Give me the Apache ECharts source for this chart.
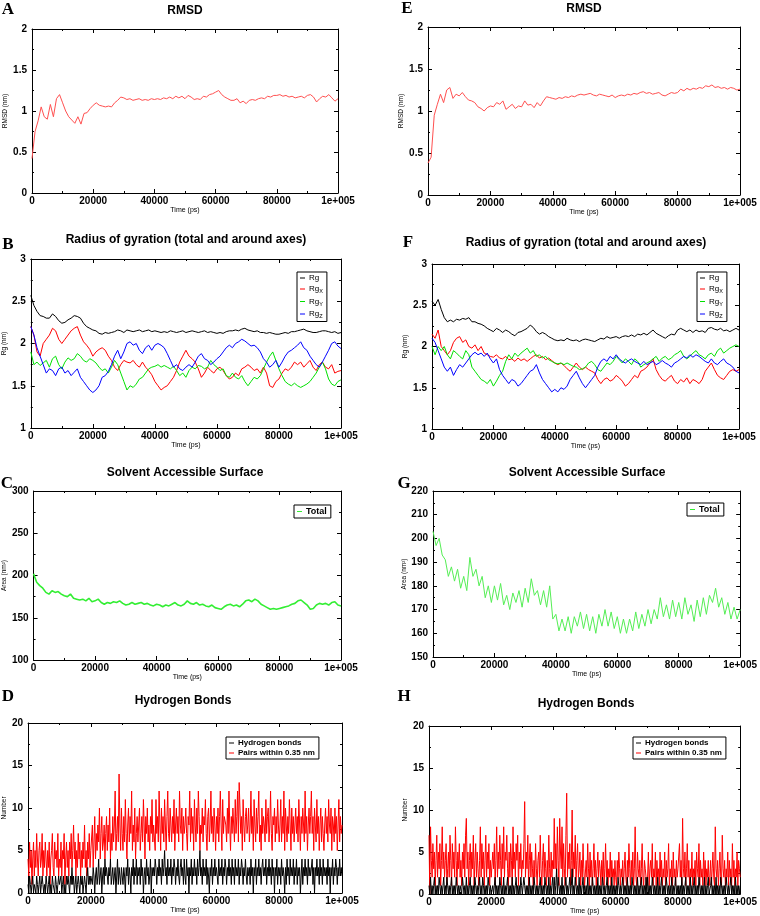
<!DOCTYPE html>
<html>
<head>
<meta charset="utf-8">
<script src="https://cdn.jsdelivr.net/npm/echarts/dist/echarts.min.js"></script>
<style>html,body{margin:0;background:#fff}#main{width:760px;height:916px}</style>
</head>
<body>
<div id="main"></div>
<script>
(function(){
	'use strict';

	// time grids (ps)
	var t1 = [], th = [];
	for (var i = 0; i <= 100; i++) t1.push(i * 1000);
	for (var j = 0; j <= 400; j++) th.push(j * 250);

	// A / E : RMSD
	var rmsdA = [0.42,0.75,0.88,1.05,0.93,0.9,1.08,0.93,1.15,1.2,
		1.1,1.0,0.93,0.89,0.85,0.93,0.84,0.97,0.98,1.03,
		1.07,1.1,1.07,1.06,1.05,1.06,1.05,1.1,1.13,1.17,
		1.16,1.14,1.15,1.13,1.14,1.15,1.13,1.14,1.13,1.15,
		1.14,1.15,1.14,1.16,1.15,1.17,1.15,1.18,1.16,1.18,
		1.15,1.19,1.17,1.14,1.15,1.14,1.18,1.17,1.2,1.21,
		1.23,1.25,1.2,1.17,1.15,1.13,1.13,1.15,1.1,1.12,
		1.09,1.13,1.14,1.13,1.15,1.16,1.15,1.18,1.17,1.19,
		1.19,1.2,1.18,1.19,1.17,1.18,1.16,1.17,1.18,1.16,
		1.19,1.2,1.17,1.11,1.15,1.18,1.17,1.2,1.16,1.12,
		1.15];
	var rmsdE = [0.38,0.45,0.95,1.08,1.2,1.1,1.25,1.28,1.15,1.2,
		1.18,1.22,1.17,1.13,1.12,1.1,1.05,1.03,1.0,1.04,
		1.06,1.05,1.1,1.08,1.12,1.02,1.05,1.08,1.03,1.06,
		1.05,1.12,1.07,1.08,1.04,1.1,1.06,1.12,1.17,1.16,
		1.15,1.14,1.16,1.15,1.17,1.16,1.18,1.17,1.19,1.2,
		1.19,1.2,1.21,1.19,1.18,1.2,1.19,1.18,1.17,1.19,
		1.16,1.18,1.19,1.18,1.2,1.19,1.21,1.2,1.22,1.23,
		1.21,1.22,1.2,1.21,1.22,1.19,1.18,1.2,1.22,1.21,
		1.22,1.26,1.24,1.27,1.25,1.27,1.26,1.28,1.27,1.3,
		1.29,1.31,1.28,1.29,1.27,1.28,1.26,1.28,1.27,1.25,
		1.26];

	// B : radius of gyration
	var rgB = [2.57,2.45,2.38,2.33,2.32,2.3,2.3,2.35,2.32,2.27,
		2.24,2.25,2.28,2.3,2.33,2.32,2.3,2.24,2.2,2.18,
		2.16,2.15,2.12,2.11,2.13,2.12,2.13,2.14,2.16,2.15,
		2.13,2.16,2.15,2.14,2.15,2.16,2.14,2.15,2.16,2.14,
		2.15,2.14,2.13,2.14,2.13,2.15,2.14,2.13,2.14,2.15,
		2.13,2.14,2.15,2.14,2.13,2.14,2.15,2.13,2.14,2.13,
		2.12,2.13,2.12,2.14,2.15,2.15,2.16,2.15,2.17,2.18,
		2.16,2.15,2.14,2.15,2.13,2.13,2.12,2.13,2.12,2.11,
		2.11,2.12,2.13,2.12,2.14,2.14,2.15,2.16,2.17,2.15,
		2.14,2.13,2.13,2.14,2.15,2.15,2.14,2.13,2.14,2.12,
		2.13];
	var rgxB = [2.2,2.1,1.9,1.85,2.0,2.05,2.1,2.18,2.15,2.05,
		2.0,2.05,2.1,2.15,2.18,2.2,2.1,2.02,1.98,1.93,
		1.85,1.9,1.93,1.95,1.92,1.85,1.8,1.72,1.68,1.75,
		1.8,1.78,1.77,1.8,1.75,1.72,1.78,1.72,1.68,1.63,
		1.55,1.5,1.45,1.48,1.5,1.55,1.6,1.68,1.78,1.85,
		1.92,1.85,1.82,1.78,1.7,1.6,1.65,1.72,1.68,1.65,
		1.7,1.72,1.68,1.62,1.58,1.6,1.65,1.62,1.7,1.72,
		1.75,1.72,1.68,1.7,1.65,1.72,1.65,1.5,1.48,1.55,
		1.58,1.65,1.7,1.68,1.72,1.78,1.75,1.78,1.72,1.76,
		1.8,1.72,1.68,1.75,1.78,1.72,1.7,1.75,1.65,1.67,
		1.68];
	var rgyB = [1.9,1.75,1.78,1.74,1.77,1.8,1.72,1.82,1.85,1.75,
		1.7,1.78,1.83,1.8,1.82,1.88,1.85,1.8,1.78,1.82,
		1.8,1.77,1.72,1.68,1.7,1.65,1.72,1.8,1.75,1.65,
		1.55,1.45,1.5,1.48,1.52,1.58,1.6,1.65,1.7,1.72,
		1.73,1.75,1.72,1.74,1.72,1.7,1.73,1.68,1.62,1.65,
		1.6,1.68,1.72,1.7,1.74,1.73,1.7,1.72,1.8,1.75,
		1.72,1.68,1.7,1.62,1.6,1.65,1.6,1.58,1.62,1.55,
		1.5,1.55,1.6,1.58,1.62,1.7,1.78,1.85,1.9,1.8,
		1.7,1.62,1.55,1.52,1.5,1.53,1.5,1.48,1.5,1.52,
		1.55,1.6,1.65,1.72,1.78,1.7,1.58,1.52,1.5,1.55,
		1.57];
	var rgzB = [2.2,2.1,1.95,1.85,1.75,1.65,1.7,1.68,1.62,1.7,
		1.72,1.65,1.68,1.62,1.66,1.7,1.6,1.55,1.5,1.45,
		1.42,1.45,1.5,1.6,1.62,1.67,1.75,1.85,1.92,1.82,
		1.9,2.0,2.02,1.98,2.0,1.92,1.88,1.95,1.98,1.92,
		1.98,2.0,1.98,1.95,1.88,1.8,1.72,1.75,1.7,1.68,
		1.72,1.75,1.72,1.78,1.85,1.88,1.82,1.8,1.75,1.78,
		1.82,1.85,1.9,1.95,1.98,1.95,2.0,2.02,2.05,2.03,
		2.0,1.97,1.98,1.95,1.9,1.82,1.78,1.72,1.75,1.8,
		1.72,1.78,1.85,1.9,1.92,1.95,1.98,2.02,1.95,1.92,
		1.85,1.8,1.75,1.72,1.78,1.85,1.92,2.0,2.02,1.97,
		1.94];

	// F : radius of gyration
	var rgF = [2.55,2.5,2.57,2.45,2.35,2.3,2.32,2.3,2.33,2.32,
		2.34,2.33,2.35,2.3,2.3,2.28,2.27,2.25,2.22,2.2,
		2.18,2.22,2.2,2.17,2.2,2.18,2.15,2.13,2.17,2.18,
		2.2,2.22,2.26,2.23,2.18,2.15,2.17,2.15,2.12,2.1,
		2.08,2.07,2.08,2.07,2.1,2.08,2.07,2.08,2.06,2.08,
		2.09,2.08,2.07,2.06,2.08,2.1,2.09,2.12,2.1,2.11,
		2.12,2.1,2.12,2.13,2.12,2.14,2.12,2.15,2.14,2.16,
		2.14,2.17,2.2,2.16,2.14,2.12,2.1,2.13,2.15,2.14,
		2.2,2.22,2.2,2.18,2.2,2.17,2.2,2.18,2.19,2.17,
		2.22,2.23,2.21,2.2,2.22,2.19,2.2,2.18,2.2,2.22,
		2.2];
	var rgxF = [2.15,2.1,2.2,2.0,1.95,1.9,1.95,2.05,2.1,2.12,
		2.05,2.08,2.0,1.98,2.02,1.95,2.0,1.92,1.9,1.88,
		1.87,1.9,1.86,1.85,1.88,1.84,1.85,1.82,1.86,1.83,
		1.85,1.82,1.85,1.88,1.9,1.86,1.88,1.84,1.86,1.83,
		1.8,1.78,1.8,1.77,1.73,1.7,1.75,1.8,1.75,1.72,
		1.75,1.72,1.7,1.68,1.6,1.55,1.6,1.62,1.58,1.6,
		1.65,1.62,1.58,1.52,1.55,1.6,1.65,1.62,1.7,1.72,
		1.75,1.8,1.85,1.72,1.65,1.6,1.58,1.62,1.65,1.58,
		1.55,1.6,1.57,1.62,1.55,1.6,1.58,1.55,1.6,1.7,
		1.75,1.8,1.72,1.65,1.62,1.6,1.65,1.7,1.72,1.7,
		1.72];
	var rgyF = [2.0,1.9,2.0,1.95,2.0,1.9,1.85,1.95,1.92,1.88,
		1.85,1.95,1.9,1.75,1.7,1.65,1.6,1.58,1.55,1.6,
		1.52,1.58,1.65,1.7,1.82,1.9,1.85,1.92,1.88,1.92,
		1.95,1.98,1.92,1.95,1.88,1.9,1.86,1.88,1.84,1.82,
		1.8,1.79,1.8,1.78,1.8,1.78,1.76,1.75,1.72,1.73,
		1.75,1.8,1.82,1.78,1.72,1.7,1.75,1.8,1.78,1.82,
		1.88,1.84,1.8,1.85,1.82,1.78,1.85,1.82,1.75,1.78,
		1.8,1.82,1.85,1.88,1.82,1.86,1.88,1.84,1.86,1.9,
		1.92,1.95,1.88,1.85,1.88,1.92,1.95,1.9,1.88,1.85,
		1.9,1.92,1.88,1.95,1.98,1.92,1.95,1.98,2.0,2.02,
		2.0];
	var rgzF = [2.1,2.05,1.95,1.85,1.75,1.7,1.75,1.65,1.72,1.78,
		1.75,1.8,1.85,1.9,1.93,1.9,1.92,1.88,1.92,1.85,
		1.8,1.85,1.72,1.65,1.6,1.55,1.6,1.58,1.52,1.55,
		1.6,1.65,1.7,1.72,1.78,1.68,1.6,1.55,1.5,1.45,
		1.48,1.45,1.5,1.48,1.52,1.6,1.65,1.7,1.62,1.55,
		1.5,1.55,1.6,1.65,1.75,1.82,1.85,1.82,1.88,1.85,
		1.9,1.85,1.82,1.8,1.83,1.85,1.82,1.8,1.78,1.82,
		1.78,1.8,1.82,1.78,1.8,1.83,1.8,1.78,1.75,1.8,
		1.82,1.85,1.88,1.86,1.9,1.87,1.9,1.88,1.85,1.82,
		1.8,1.85,1.8,1.78,1.82,1.85,1.8,1.78,1.75,1.7,
		1.68];

	// C / G : solvent accessible surface (nm^2)
	var sasaC = [202,192,188,185,180,178,182,180,181,178,
		176,175,178,173,172,171,172,170,173,169,
		170,172,168,166,168,167,169,168,170,167,
		165,166,168,166,167,168,166,167,165,164,
		166,165,163,165,164,166,168,165,164,166,
		170,167,166,168,165,166,164,163,165,162,
		161,160,163,165,166,164,165,163,166,170,
		171,169,172,170,166,164,162,160,161,160,
		161,162,163,164,166,167,170,171,168,165,
		160,161,165,167,166,167,165,168,169,165,
		164];
	var sasaG = [203,197,200,193,191,184,188,182,187,179,
		184,178,192,184,187,180,184,175,180,173,
		180,174,181,172,176,170,177,173,178,171,
		179,173,183,176,178,172,178,171,180,166,
		168,161,166,161,167,160,167,163,169,162,
		168,161,167,160,168,163,170,163,169,162,
		167,160,166,160,166,161,169,162,168,163,
		170,164,170,166,175,167,172,166,174,167,
		173,166,175,168,172,165,174,167,175,168,
		176,173,179,171,175,168,173,166,171,166,
		170];

	// D / H : hydrogen bonds (every 250 ps)
	var pairsD = [4,2,6,3,5,1,4,6,2,5,3,7,4,2,5,6,3,4,7,2,5,3,6,4,2,5,3,6,1,4,5,7,3,2,6,4,5,3,7,2,4,
		3,6,2,5,4,7,1,4,6,3,5,2,6,4,7,3,5,8,4,6,2,5,3,7,4,6,2,5,3,6,4,8,3,5,2,6,4,7,3,5,
		5,8,3,6,9,4,7,5,8,6,10,4,7,9,5,6,8,4,7,9,5,8,6,10,4,7,5,9,6,8,12,5,7,9,6,14,8,5,10,7,
		5,9,6,11,7,4,8,10,6,9,7,12,5,8,6,10,4,7,9,6,8,10,5,7,9,6,11,8,4,9,7,10,6,8,5,9,7,11,6,8,
		8,5,11,7,9,6,12,8,5,10,7,9,6,11,8,5,9,12,7,6,10,8,6,9,7,11,5,8,10,7,9,6,12,8,7,10,5,9,7,8,
		10,7,5,9,8,12,6,10,7,9,5,11,8,6,10,7,12,9,5,8,7,10,6,9,8,11,7,5,9,10,6,8,12,7,9,6,10,8,5,9,
		7,10,6,9,12,8,5,11,7,9,9,8,6,10,7,12,8,5,9,7,10,8,6,11,7,9,12,6,13,10,7,9,5,11,8,6,9,10,7,8,
		10,6,8,12,7,9,5,11,8,6,10,7,9,12,6,8,5,10,7,9,8,6,11,7,9,10,6,8,12,7,5,9,8,10,6,9,7,11,8,6,
		8,11,6,9,7,12,5,10,8,6,9,7,11,8,5,10,7,9,6,8,10,7,9,6,11,8,5,9,7,10,8,6,12,7,9,5,8,10,7,9,
		12,7,9,5,10,8,6,11,7,9,5,8,10,6,9,7,5,8,10,7,9,6,11,8,7,10,5,9,8,6,10,7,9,5,8,11,6,9,7,8];
	var hbondD = [1,0,2,1,0,1,2,0,1,1,0,2,1,0,1,2,0,1,2,1,0,1,0,2,1,0,1,2,0,1,0,2,1,1,0,2,1,0,1,2,1,
		1,2,0,1,2,0,1,0,2,1,2,1,0,2,1,3,1,2,0,1,2,0,1,2,1,0,2,1,2,0,1,2,1,0,2,3,1,2,1,2,
		2,1,3,2,0,2,3,1,2,4,1,2,3,0,2,3,1,4,2,3,2,1,3,2,4,1,2,3,1,2,3,0,2,4,1,3,2,1,3,2,
		1,3,2,0,3,2,4,1,3,2,0,3,2,4,1,3,2,4,1,3,2,3,1,4,2,3,0,2,3,1,4,2,3,1,2,4,0,3,2,3,
		2,4,3,1,3,2,4,2,3,1,4,2,3,5,2,3,1,4,2,3,2,4,1,3,2,4,3,1,3,2,4,2,1,3,4,2,3,1,4,2,
		1,4,2,3,0,3,2,4,1,3,2,4,2,3,1,4,2,3,5,2,3,1,4,2,3,2,4,1,3,2,0,3,2,4,1,3,2,4,2,3,
		3,1,4,2,3,2,4,1,3,2,4,3,1,3,2,4,2,3,1,4,2,3,1,4,2,3,2,4,1,3,2,4,3,1,3,2,4,2,1,3,
		2,3,1,4,2,3,0,3,2,4,1,3,2,4,2,3,1,3,4,2,3,2,4,1,3,2,4,2,3,1,4,2,3,0,3,2,4,1,3,2,
		3,1,4,2,3,2,0,3,1,4,2,3,1,4,2,3,2,4,1,3,2,4,1,3,2,3,0,2,4,1,3,2,4,2,3,1,4,2,3,2,
		2,4,1,3,0,3,2,4,2,3,1,4,2,3,1,4,2,3,2,3,1,4,2,3,0,3,2,4,1,3,2,4,3,1,3,2,4,2,3,2];
	var pairsH = [7,0,8,4,2,6,3,5,1,4,7,2,5,3,6,1,4,8,3,5,2,4,6,1,3,5,2,7,4,1,6,3,5,2,8,4,1,5,3,6,2,
		4,1,5,3,6,2,7,9,3,5,1,4,6,2,5,3,7,1,4,6,2,5,3,1,4,8,2,6,3,5,1,4,7,2,5,3,6,1,4,2,
		2,5,3,6,1,4,8,2,5,3,7,4,1,6,3,8,2,5,4,7,3,1,5,2,6,4,1,8,3,5,2,6,4,7,1,5,3,6,2,4,
		3,6,11,2,5,3,7,1,4,6,2,5,3,1,4,2,6,3,1,4,5,2,7,3,1,4,6,2,5,3,1,4,2,7,3,1,5,2,4,3,
		9,3,6,2,8,4,1,9,5,3,8,2,6,3,1,7,12,2,5,3,6,1,4,10,2,5,3,7,1,4,6,2,3,5,1,4,2,6,3,1,
		1,4,2,6,3,1,5,2,4,1,3,6,2,4,1,3,5,2,4,3,1,4,2,5,1,3,6,2,4,1,3,2,5,1,4,2,3,1,4,2,
		1,4,2,5,3,1,3,2,4,1,3,5,2,1,4,2,6,3,1,4,2,5,1,3,8,2,1,5,3,2,4,1,3,6,2,1,4,3,2,1,
		2,5,1,3,4,2,6,1,3,2,5,1,4,2,3,1,5,2,4,1,3,2,5,1,4,2,3,6,1,3,2,4,1,5,2,3,1,4,2,3,
		3,6,2,4,1,9,3,2,5,1,3,6,2,4,1,3,2,5,1,3,2,4,1,5,3,2,6,1,4,2,3,1,5,2,4,1,3,2,4,1,
		2,4,1,3,5,2,1,8,3,2,4,1,3,5,2,1,7,3,2,4,1,3,2,5,1,4,2,3,1,6,2,4,1,3,2,5,1,4,3,2];
	var hbondH = [1,0,2,0,1,0,1,2,0,1,0,1,0,2,1,0,1,0,1,2,0,1,0,2,1,0,1,0,1,2,0,1,0,1,0,2,1,0,1,0,1,
		1,0,2,1,0,1,0,2,0,1,0,1,2,0,1,0,1,0,2,1,0,1,0,1,2,0,1,0,2,1,0,1,0,1,0,2,1,0,1,0,
		0,1,0,1,2,0,1,0,1,0,2,1,0,1,0,2,0,1,0,1,2,0,1,0,1,0,2,0,1,0,1,2,0,1,0,1,0,2,1,0,
		0,2,1,0,1,0,1,0,2,0,1,0,1,0,2,1,0,1,0,1,0,1,2,0,1,0,1,0,2,1,0,1,0,2,0,1,0,1,2,0,
		2,0,1,3,0,2,1,0,1,0,2,0,1,0,1,2,0,1,0,1,2,0,1,3,0,1,0,2,1,0,1,0,2,0,1,0,1,2,0,1,
		0,1,0,2,0,1,0,1,0,2,1,0,1,0,1,0,2,0,1,0,1,0,2,1,0,1,0,1,2,0,1,0,1,0,2,0,1,0,1,0,
		1,0,2,1,0,1,0,1,2,0,1,0,1,0,2,0,1,0,1,0,2,1,0,1,0,1,0,2,0,1,0,1,2,0,1,0,1,0,2,0,
		2,0,1,0,1,0,2,1,0,1,0,1,0,2,0,1,0,1,2,0,1,0,1,0,2,1,0,1,0,1,0,2,0,1,0,1,2,0,1,0,
		1,0,1,0,2,0,1,0,1,2,0,1,0,1,0,2,0,1,0,1,2,0,1,0,1,0,2,1,0,1,0,1,0,2,0,1,0,1,2,0,
		0,1,2,0,1,0,1,0,2,0,1,0,1,0,2,1,0,1,0,1,0,2,1,0,1,0,1,2,0,1,0,1,0,2,0,1,0,1,0,1];

	var FONT = 'Liberation Sans, Arial, sans-serif';

	// layout of the 8 panels: [left, top, width, height]
	var panels = [
		{ box: [32, 29, 306, 164],  y: [0, 2, 0.5],     yname: 'RMSD (nm)',  ygap: 19, title: 'RMSD', tx: 185, ty: 11, letter: 'A', lx: 8, ly: 10 },
		{ box: [428, 27, 312, 168], y: [0, 2, 0.5],     yname: 'RMSD (nm)',  ygap: 20, title: 'RMSD', tx: 584, ty: 9, letter: 'E', lx: 407, ly: 9 },
		{ box: [30, 259, 311, 169], y: [1, 3, 0.5],     yname: 'Rg (nm)',    ygap: 19, title: 'Radius of gyration (total and around axes)', tx: 186, ty: 240, letter: 'B', lx: 8, ly: 245 },
		{ box: [432, 264, 307, 165], y: [1, 3, 0.5],    yname: 'Rg (nm)',    ygap: 19, title: 'Radius of gyration (total and around axes)', tx: 586, ty: 243, letter: 'F', lx: 408, ly: 243 },
		{ box: [30, 491, 311, 169], y: [100, 300, 50],  yname: 'Area (nm²)', ygap: 21, title: 'Solvent Accessible Surface', tx: 185, ty: 473, letter: 'C', lx: 7, ly: 484 },
		{ box: [433, 491, 308, 166], y: [150, 220, 10], yname: 'Area (nm²)', ygap: 20, title: 'Solvent Accessible Surface', tx: 587, ty: 473, letter: 'G', lx: 404, ly: 484 },
		{ box: [26, 723, 316, 170], y: [0, 20, 5],      yname: 'Number',     ygap: 16, title: 'Hydrogen Bonds', tx: 183, ty: 701, letter: 'D', lx: 8, ly: 697 },
		{ box: [429, 726, 315, 171], y: [0, 20, 5],     yname: 'Number',     ygap: 16, title: 'Hydrogen Bonds', tx: 586, ty: 704, letter: 'H', lx: 404, ly: 697 }
	];

	function pts(t, v) {
		return v.map(function (y, k) { return [t[k], y]; });
	}

	var grid = [], xAxis = [], yAxis = [], graphic = [];
	var tick = { show: true, inside: true, length: 4, lineStyle: { color: '#000' } };
	var minor = { show: true, splitNumber: 2, length: 2, lineStyle: { color: '#000' } };
	var line = { show: true, onZero: false, lineStyle: { color: '#000', width: 1 } };
	var lab = { color: '#000', fontFamily: FONT, fontWeight: 'bold', fontSize: 10 };

	panels.forEach(function (p, i) {
		grid.push({ left: p.box[0], top: p.box[1], width: p.box[2], height: p.box[3] });
		xAxis.push({
			gridIndex: i, type: 'value', position: 'bottom', min: 0, max: 100000, interval: 20000,
			axisLine: line, axisTick: tick, minorTick: minor, splitLine: { show: false },
			axisLabel: Object.assign({ margin: 3, formatter: function (v) { return v === 100000 ? '1e+005' : String(v); } }, lab),
			name: 'Time (ps)', nameLocation: 'middle', nameGap: 14,
			nameTextStyle: { color: '#000', fontFamily: FONT, fontSize: 7 }
		});
		xAxis.push({
			gridIndex: i, type: 'value', position: 'top', min: 0, max: 100000, interval: 20000,
			axisLine: line, axisTick: tick, minorTick: minor, splitLine: { show: false }, axisLabel: { show: false }
		});
		yAxis.push({
			gridIndex: i, type: 'value', position: 'left', min: p.y[0], max: p.y[1], interval: p.y[2],
			axisLine: line, axisTick: tick, minorTick: minor, splitLine: { show: false },
			axisLabel: Object.assign({ margin: 5 }, lab),
			name: p.yname, nameLocation: 'middle', nameGap: p.ygap,
			nameTextStyle: { color: '#000', fontFamily: FONT, fontSize: 6.5 }
		});
		yAxis.push({
			gridIndex: i, type: 'value', position: 'right', min: p.y[0], max: p.y[1], interval: p.y[2],
			axisLine: line, axisTick: tick, minorTick: minor, splitLine: { show: false }, axisLabel: { show: false }
		});
		graphic.push({ type: 'text', x: p.tx, y: p.ty, style: { text: p.title, fill: '#000', font: 'bold 12px ' + FONT, align: 'center', verticalAlign: 'middle' } });
		graphic.push({ type: 'text', x: p.lx, y: p.ly, style: { text: p.letter, fill: '#000', font: 'bold 17px Liberation Serif, Times New Roman, serif', align: 'center', verticalAlign: 'middle' } });
	});

	function ser(name, panel, t, v, color, width) {
		return {
			name: name, type: 'line', xAxisIndex: panel * 2, yAxisIndex: panel * 2,
			data: pts(t, v), symbol: 'none', showSymbol: false, sampling: null,
			lineStyle: { color: color, width: width || 1 }, itemStyle: { color: color },
			silent: true, animation: false
		};
	}

	var series = [
		ser('RMSD A', 0, t1, rmsdA, '#ff5050'),
		ser('RMSD E', 1, t1, rmsdE, '#ff5050'),
		ser('Rg', 2, t1, rgB, '#000000'),
		ser('RgX', 2, t1, rgxB, '#ff0000'),
		ser('RgY', 2, t1, rgyB, '#00e000'),
		ser('RgZ', 2, t1, rgzB, '#0000ff'),
		ser('Rg', 3, t1, rgF, '#000000'),
		ser('RgX', 3, t1, rgxF, '#ff0000'),
		ser('RgY', 3, t1, rgyF, '#00e000'),
		ser('RgZ', 3, t1, rgzF, '#0000ff'),
		ser('Total', 4, t1, sasaC, '#33ee33', 1.6),
		ser('Total', 5, t1, sasaG, '#55ee55'),
		ser('Pairs within 0.35 nm', 6, th, pairsD, '#ff0000'),
		ser('Hydrogen bonds', 6, th, hbondD, '#000000'),
		ser('Pairs within 0.35 nm', 7, th, pairsH, '#ff0000'),
		ser('Hydrogen bonds', 7, th, hbondH, '#000000')
	];

	function legend(names, left, top, size, bold, gap) {
		return {
			data: names, left: left, top: top, orient: 'vertical', selectedMode: false,
			icon: 'rect', itemWidth: 5, itemHeight: 1, itemGap: gap,
			padding: [2, 4, 2, 3], borderColor: '#000', borderWidth: 1, backgroundColor: '#fff',
			formatter: function (n) { return /^Rg[XYZ]$/.test(n) ? 'Rg{s|' + n.slice(2) + '}' : n; },
			textStyle: {
				color: '#000', fontFamily: FONT, fontSize: size, fontWeight: bold ? 'bold' : 'normal', padding: [0, 0, 0, -1],
				rich: { s: { fontSize: 5.5, fontFamily: FONT, color: '#000', verticalAlign: 'bottom', padding: [5, 0, 0, 0] } }
			}
		};
	}

	var option = {
		backgroundColor: '#fff',
		animation: false,
		grid: grid,
		xAxis: xAxis,
		yAxis: yAxis,
		graphic: graphic,
		legend: [
			legend(['Rg', 'RgX', 'RgY', 'RgZ'], 297, 272, 8, false, 3),
			legend(['Rg', 'RgX', 'RgY', 'RgZ'], 697, 272, 8, false, 3),
			legend(['Total'], 294, 505, 9, true, 2),
			legend(['Total'], 687, 503, 9, true, 2),
			legend(['Hydrogen bonds', 'Pairs within 0.35 nm'], 226, 737, 8, true, 2),
			legend(['Hydrogen bonds', 'Pairs within 0.35 nm'], 633, 737, 8, true, 2)
		],
		series: series
	};

	var myChart = echarts.init(document.getElementById('main'), null, { renderer: 'canvas' });
	myChart.setOption(option);
}());
</script>
</body>
</html>
